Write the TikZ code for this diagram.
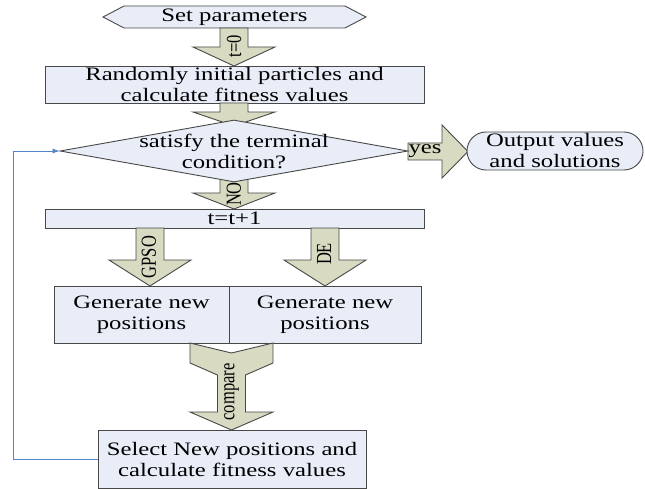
\documentclass[tikz,border=0pt]{standalone}
\usepackage{fontspec}
\setmainfont{Liberation Serif}[FakeStretch=1.3]
\newfontfamily\flowlbl{Liberation Serif}
\usetikzlibrary{shapes.geometric,arrows.meta}

\definecolor{boxblue}{RGB}{232,237,248}
\definecolor{arrowkhaki}{RGB}{216,218,194}
\definecolor{edgegray}{RGB}{72,72,72}
\definecolor{loopblue}{RGB}{84,132,204}

% block arrow pointing down: centre x, top y, head y, tip y
\newcommand{\downblock}[4]{%
  \draw[blockarrow] (#1-14,#2) -- (#1+14,#2) -- (#1+14,#3) -- (#1+41,#3)
    -- (#1,#4) -- (#1-41,#3) -- (#1-14,#3) -- cycle;}

\begin{document}
\begin{tikzpicture}[x=1pt,y=-1pt,
  every node/.style={font=\fontsize{19}{21}\selectfont},
  box/.style={draw=edgegray,fill=boxblue,line width=0.9pt,inner sep=0pt,align=center},
  blockarrow/.style={draw=edgegray,fill=arrowkhaki,line width=0.9pt},
  vlabel/.style={rotate=90,yscale=1.3,inner sep=0pt,
    font=\flowlbl\fontsize{16.5}{18}\selectfont},
  loopline/.style={draw=loopblue,line width=0.8pt,-{Latex[length=7pt,width=5pt]}}]
\useasboundingbox (0,0) rectangle (645,489);
% start
\draw[box] (103,17) -- (124,6) -- (345,6) -- (366,17) -- (345,28) -- (124,28) -- cycle;
\node (set) at (234.5,17) {Set parameters};
\downblock{234}{28}{47}{66}
\node[box,minimum width=379,minimum height=37] (init) at (234.5,84.5)
  {Randomly initial particles and\\calculate fitness values};
% test
\downblock{234}{103}{112}{126}
\downblock{234}{172}{193}{209}
\draw[blockarrow] (408,143) -- (442,143) -- (442,125) -- (468,151.5)
  -- (442,178) -- (442,160) -- (408,160) -- cycle;
\node[box,diamond,minimum width=348,minimum height=62] (cond) at (234,151) {};
\node[align=center] at (cond) {satisfy the terminal\\condition?};
\node[box,rounded corners=19,minimum width=176,minimum height=38] (out)
  at (555,151) {Output values\\and solutions};
\node[box,minimum width=379,minimum height=19] (step) at (234.5,218.5) {t=t+1};
% two updates
\downblock{150}{228}{260}{286}
\downblock{325}{228}{260}{286}
\node[box,minimum width=175,minimum height=57] (gpso) at (141.5,314.5)
  {Generate new\\positions};
\node[box,minimum width=192,minimum height=57] (de) at (325,314.5)
  {Generate new\\positions};
\draw[blockarrow] (190,343) -- (231.5,353) -- (273,343) -- (273,363)
  -- (245.5,375) -- (245.5,412) -- (273,412) -- (231.5,430) -- (190,412)
  -- (217.5,412) -- (217.5,375) -- (190,363) -- cycle;
\node[box,minimum width=268,minimum height=58] (sel) at (232,459)
  {Select New positions and\\calculate fitness values};
% arrow labels
\node[vlabel] at (234,46) {t=0};
\node[vlabel] at (234,194) {NO};
\node[vlabel] at (149,257) {GPSO};
\node[vlabel] at (324,254) {DE};
\node[vlabel] at (231.5,392) {compare};
\node at (425,151.5) {yes};
% loop back
\coordinate (turn) at (13,459);
\draw[loopline] (sel.west) -- (turn) |- (cond.west);
\end{tikzpicture}
\end{document}
